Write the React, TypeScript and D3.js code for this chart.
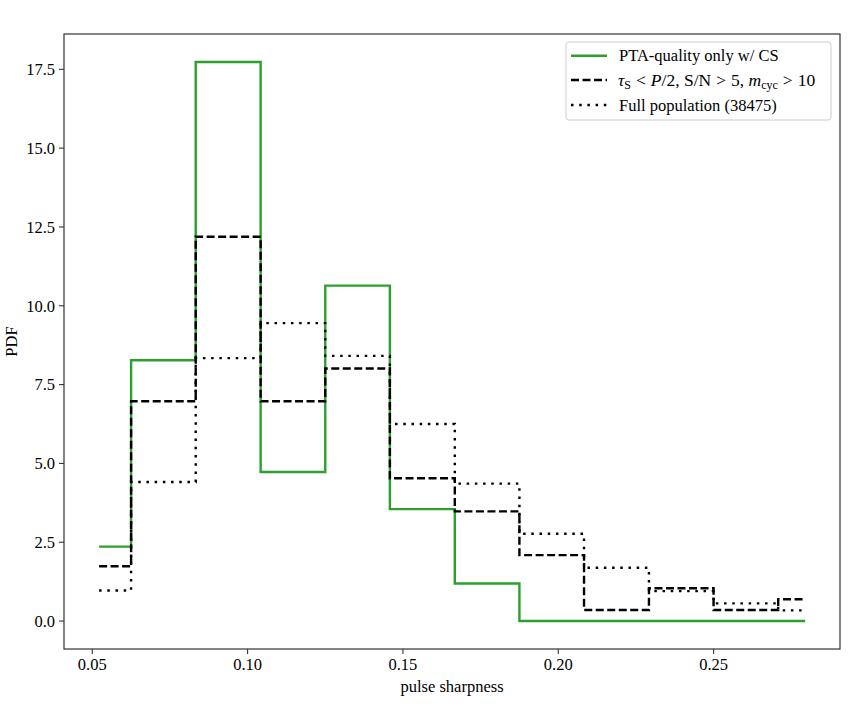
import React from 'react'
import * as d3 from 'd3'

// bin edges (pulse sharpness)
const binEdges = [0.0522, 0.0625, 0.0833, 0.1042, 0.125, 0.1458, 0.1667, 0.1875, 0.2083, 0.2292, 0.25, 0.2708, 0.2795]

// PDF values per bin
const ptaOnly = [2.36, 8.27, 17.73, 4.73, 10.64, 3.55, 1.19, 0, 0, 0, 0, 0]
const cutSample = [1.74, 6.97, 12.19, 6.97, 8.01, 4.53, 3.48, 2.09, 0.35, 1.04, 0.35, 0.69]
const fullPop = [0.97, 4.41, 8.34, 9.45, 8.41, 6.25, 4.36, 2.77, 1.69, 0.95, 0.56, 0.34]

const xTicks = [0.05, 0.1, 0.15, 0.2, 0.25]
const yTicks = [0, 2.5, 5, 7.5, 10, 12.5, 15, 17.5]

const W = 850
const H = 717
const left = 64
const right = 840
const top = 34
const bottom = 649
const font = "'Liberation Serif', 'Times New Roman', serif"

const x = d3.scaleLinear().domain([0.0409, 0.2907]).range([left, right])
const y = d3.scaleLinear().domain([-0.886, 18.62]).range([bottom, top])

function stepPath(vals: number[]) {
  const pts: [number, number][] = vals.map((v, i) => [binEdges[i], v])
  pts.push([binEdges[binEdges.length - 1], vals[vals.length - 1]])
  const line = d3
    .line<[number, number]>()
    .x((d) => x(d[0]))
    .y((d) => y(d[1]))
    .curve(d3.curveStepAfter)
  return line(pts) || ''
}

const series = [
  {name: 'pta', vals: ptaOnly, stroke: '#2ca02c', dash: undefined as string | undefined},
  {name: 'cut', vals: cutSample, stroke: '#000', dash: '8 3.5'},
  {name: 'full', vals: fullPop, stroke: '#000', dash: '2.5 5.7'},
]

export default function App() {
  const fx = d3.format('.2f')
  const fy = d3.format('.1f')
  const legX = 566
  const legY = 42
  const rows = [55.7, 80, 105]
  return (
    <svg width={W} height={H} style={{position: 'absolute', left: 0, top: 0, background: '#fff'}} fontFamily={font}>
      {/* data */}
      {series.map((s) => (
        <path key={s.name} d={stepPath(s.vals)} fill="none" stroke={s.stroke} strokeWidth={2.4} strokeDasharray={s.dash} />
      ))}

      {/* spines */}
      <rect x={left} y={top} width={right - left} height={bottom - top} fill="none" stroke="#333" strokeWidth={1.2} />

      {/* x axis */}
      {xTicks.map((t) => (
        <g key={t} transform={`translate(${x(t)},${bottom})`}>
          <line y2={5} stroke="#333" strokeWidth={1.1} />
          <text y={21} textAnchor="middle" fontSize={16.5} fill="#000">
            {fx(t)}
          </text>
        </g>
      ))}
      <text x={(left + right) / 2} y={692} textAnchor="middle" fontSize={16.5}>
        pulse sharpness
      </text>

      {/* y axis */}
      {yTicks.map((t) => (
        <g key={t} transform={`translate(${left},${y(t)})`}>
          <line x2={-5} stroke="#333" strokeWidth={1.1} />
          <text x={-9} dy="0.35em" textAnchor="end" fontSize={16.5} fill="#000">
            {fy(t)}
          </text>
        </g>
      ))}
      <text transform={`translate(17,${(top + bottom) / 2}) rotate(-90)`} textAnchor="middle" fontSize={16.5}>
        PDF
      </text>

      {/* legend */}
      <rect x={legX} y={legY} width={265} height={78} rx={3} fill="#fff" fillOpacity={0.8} stroke="#ccc" strokeWidth={1} />
      {series.map((s, i) => (
        <line
          key={s.name}
          x1={571}
          x2={607}
          y1={rows[i]}
          y2={rows[i]}
          stroke={s.stroke}
          strokeWidth={2.4}
          strokeDasharray={s.dash}
        />
      ))}
      <text x={619} y={rows[0]} dy="0.35em" fontSize={16.5}>
        PTA-quality only w/ CS
      </text>
      <text x={618} y={rows[1]} dy="0.35em" fontSize={17.5}>
        <tspan fontStyle="italic">τ</tspan>
        <tspan fontSize={12} dy={3}>S</tspan>
        <tspan dy={-3} dx={5}>&lt;</tspan>
        <tspan dx={5} fontStyle="italic">P</tspan>
        <tspan>/2, S/N</tspan>
        <tspan dx={5}>&gt;</tspan>
        <tspan dx={5}>5, </tspan>
        <tspan fontStyle="italic">m</tspan>
        <tspan fontSize={12} dy={3}>cyc</tspan>
        <tspan dy={-3} dx={5}>&gt;</tspan>
        <tspan dx={5}>10</tspan>
      </text>
      <text x={619} y={rows[2]} dy="0.35em" fontSize={16.5}>
        Full population (38475)
      </text>
    </svg>
  )
}
